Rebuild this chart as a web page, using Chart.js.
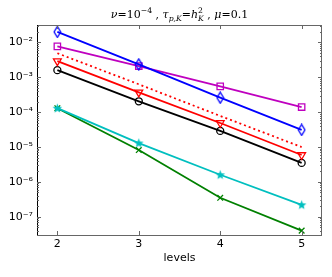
<!DOCTYPE html>
<html>
<head>
<meta charset="utf-8">
<script src="https://cdn.jsdelivr.net/npm/chart.js@4/dist/chart.umd.min.js"></script>
<style>
  html, body { margin: 0; padding: 0; background: #fff; }
</style>
</head>
<body>
<canvas id="errChart" width="332" height="277"></canvas>
<script>
// levels on the x axis
const levels = [2, 3, 4, 5];

// error values per series
const errBlue    = [2.0e-2, 2.35e-3, 2.6e-4, 3.1e-5];
const errMagenta = [7.7e-3, 2.1e-3, 5.5e-4, 1.4e-4];
const errRed     = [2.9e-3, 3.7e-4, 4.9e-5, 5.9e-6];
const errRefDot  = [4.9e-3, 6.3e-4, 7.8e-5, 1.0e-5];
const errBlack   = [1.6e-3, 2.05e-4, 2.9e-5, 3.5e-6];
const errCyan    = [1.3e-4, 1.3e-5, 1.6e-6, 2.2e-7];
const errGreen   = [1.3e-4, 8.2e-6, 3.5e-7, 4.0e-8];

// decade exponents for the y tick labels
const yTickExps = [-7, -6, -5, -4, -3, -2];

const supDigits = { '-': '\u207B', '0': '\u2070', '1': '\u00B9', '2': '\u00B2', '3': '\u00B3',
  '4': '\u2074', '5': '\u2075', '6': '\u2076', '7': '\u2077', '8': '\u2078', '9': '\u2079' };
const sup = (n) => String(n).split('').map(c => supDigits[c]).join('');

// little marker images for the thin diamond and filled star
function thinDiamond(color) {
  const c = document.createElement('canvas');
  c.width = 9; c.height = 13;
  const g = c.getContext('2d');
  g.strokeStyle = color; g.lineWidth = 1.3;
  g.beginPath();
  g.moveTo(4.5, 1); g.lineTo(7.8, 6.5); g.lineTo(4.5, 12); g.lineTo(1.2, 6.5);
  g.closePath(); g.stroke();
  return c;
}
function filledStar(color) {
  const c = document.createElement('canvas');
  c.width = 11; c.height = 11;
  const g = c.getContext('2d');
  g.fillStyle = color;
  g.beginPath();
  for (let i = 0; i < 10; i++) {
    const r = i % 2 === 0 ? 5 : 2.1;
    const a = -Math.PI / 2 + i * Math.PI / 5;
    const px = 5.5 + r * Math.cos(a), py = 5.8 + r * Math.sin(a);
    if (i === 0) g.moveTo(px, py); else g.lineTo(px, py);
  }
  g.closePath(); g.fill();
  return c;
}

function series(label, values, color, style, extra) {
  return Object.assign({
    label: label,
    data: levels.map((x, i) => ({ x: x, y: values[i] })),
    borderColor: color,
    backgroundColor: color,
    borderWidth: 1.8,
    pointStyle: style,
    pointRadius: 4,
    pointBorderColor: color,
    pointBackgroundColor: 'rgba(0,0,0,0)',
    pointBorderWidth: 1.3,
    tension: 0
  }, extra || {});
}

const datasets = [
  series('blue', errBlue, '#0000ff', thinDiamond('#0000ff')),
  series('magenta', errMagenta, '#bf00bf', 'rect', { pointRadius: 4.5 }),
  series('red', errRed, '#ff0000', 'triangle', { pointRotation: 180, pointRadius: 4.5 }),
  series('ref', errRefDot, '#ff0000', false, { borderDash: [2, 3], pointRadius: 0, borderWidth: 1.8 }),
  series('black', errBlack, '#000000', 'circle', { pointRadius: 3.5 }),
  series('cyan', errCyan, '#00bfbf', filledStar('#00bfbf')),
  series('green', errGreen, '#008000', 'crossRot', { pointRadius: 4 })
];

// title with sub/superscripts, drawn by hand
const titleParts = [
  { t: '\u03BD', i: 1 }, { t: '=10' }, { t: '\u22124', sup: 1 }, { t: ' , ' },
  { t: '\u03C4', i: 1 }, { t: 'p,K', sub: 1, i: 1 }, { t: '=' },
  { t: 'h', i: 1 }, { t: '2', sup: 1, stack: 1 }, { t: 'K', sub: 1, i: 1 }, { t: ' , ' },
  { t: '\u03BC', i: 1 }, { t: '=0.1' }
];

function drawMath(ctx, parts, cx, baseY, size) {
  const fontFor = (p) => (p.i ? 'italic ' : '') + ((p.sup || p.sub) ? size * 0.7 : size) + 'px "DejaVu Serif"';
  const layout = [];
  let x = 0, stackX = null, stackW = 0;
  parts.forEach(p => {
    ctx.font = fontFor(p);
    const w = ctx.measureText(p.t).width;
    if (p.stack) {
      stackX = x; stackW = w;
      layout.push({ p: p, x: x });
    } else if (stackX !== null) {
      layout.push({ p: p, x: stackX });
      x = stackX + Math.max(w, stackW);
      stackX = null;
    } else {
      layout.push({ p: p, x: x });
      x += w;
    }
  });
  const x0 = cx - x / 2;
  ctx.fillStyle = '#000';
  ctx.textBaseline = 'alphabetic';
  ctx.textAlign = 'left';
  layout.forEach(it => {
    ctx.font = fontFor(it.p);
    let dy = 0;
    if (it.p.sup) dy = -size * 0.42;
    if (it.p.sub) dy = size * 0.3;
    ctx.fillText(it.p.t, x0 + it.x, baseY + dy);
  });
}

const frameAndTicks = {
  id: 'frameAndTicks',
  afterDraw(chart) {
    const ctx = chart.ctx;
    const a = chart.chartArea;
    const xs = chart.scales.x, ys = chart.scales.y;
    ctx.save();
    ctx.lineWidth = 1;
    // frame
    ctx.strokeStyle = '#666';
    ctx.strokeRect(a.left + 0.5, a.top + 0.5, a.right - a.left - 1, a.bottom - a.top);
    ctx.strokeStyle = '#000';
    ctx.beginPath(); ctx.moveTo(a.left + 0.5, a.top); ctx.lineTo(a.left + 0.5, a.bottom + 0.5); ctx.stroke();
    // x ticks, bottom and top, pointing inward
    ctx.strokeStyle = '#666';
    levels.forEach(v => {
      const px = Math.round(xs.getPixelForValue(v)) + 0.5;
      ctx.beginPath();
      ctx.moveTo(px, a.bottom); ctx.lineTo(px, a.bottom - 4);
      ctx.moveTo(px, a.top); ctx.lineTo(px, a.top + 4);
      ctx.stroke();
    });
    // y ticks, major and minor, left and right
    for (let e = -8; e <= -1; e++) {
      for (let k = 1; k <= 9; k++) {
        const v = k * Math.pow(10, e);
        if (v < ys.min || v > ys.max) continue;
        const py = Math.round(ys.getPixelForValue(v)) + 0.5;
        const len = k === 1 ? 4 : 2;
        ctx.beginPath();
        ctx.moveTo(a.left, py); ctx.lineTo(a.left + len, py);
        ctx.moveTo(a.right, py); ctx.lineTo(a.right - len, py);
        ctx.stroke();
      }
    }
    ctx.restore();
    drawMath(ctx, titleParts, (a.left + a.right) / 2, 18, 11);
  }
};

const errCtx = document.getElementById('errChart').getContext('2d');
const errChart = new Chart(errCtx, {
  type: 'line',
  data: { datasets: datasets },
  options: {
    responsive: false,
    animation: false,
    layout: { padding: { top: 25, right: 10, left: 0, bottom: 0 } },
    plugins: { legend: { display: false }, tooltip: { enabled: false } },
    scales: {
      x: {
        type: 'linear',
        min: 1.75,
        max: 5.25,
        afterBuildTicks: (s) => { s.ticks = levels.map(v => ({ value: v })); },
        ticks: { callback: (v) => String(v), color: '#000', padding: 3,
                 font: { family: 'DejaVu Sans', size: 11 }, maxRotation: 0 },
        grid: { display: false, drawTicks: false },
        border: { display: false },
        title: { display: true, text: 'levels', color: '#000',
                 font: { family: 'DejaVu Sans', size: 11 }, padding: { top: 0, bottom: 12 } },
        afterFit: (s) => { s.height = 42; }
      },
      y: {
        type: 'logarithmic',
        min: Math.pow(10, -7.5),
        max: Math.pow(10, -1.5),
        afterBuildTicks: (s) => { s.ticks = yTickExps.map(e => ({ value: Math.pow(10, e) })); },
        ticks: { callback: (v) => '10' + sup(Math.round(Math.log10(v))), color: '#000', padding: 4,
                 font: { family: 'DejaVu Sans', size: 11 } },
        grid: { display: false, drawTicks: false },
        border: { display: false },
        afterFit: (s) => { s.width = 37; }
      }
    }
  },
  plugins: [frameAndTicks]
});
</script>
</body>
</html>
